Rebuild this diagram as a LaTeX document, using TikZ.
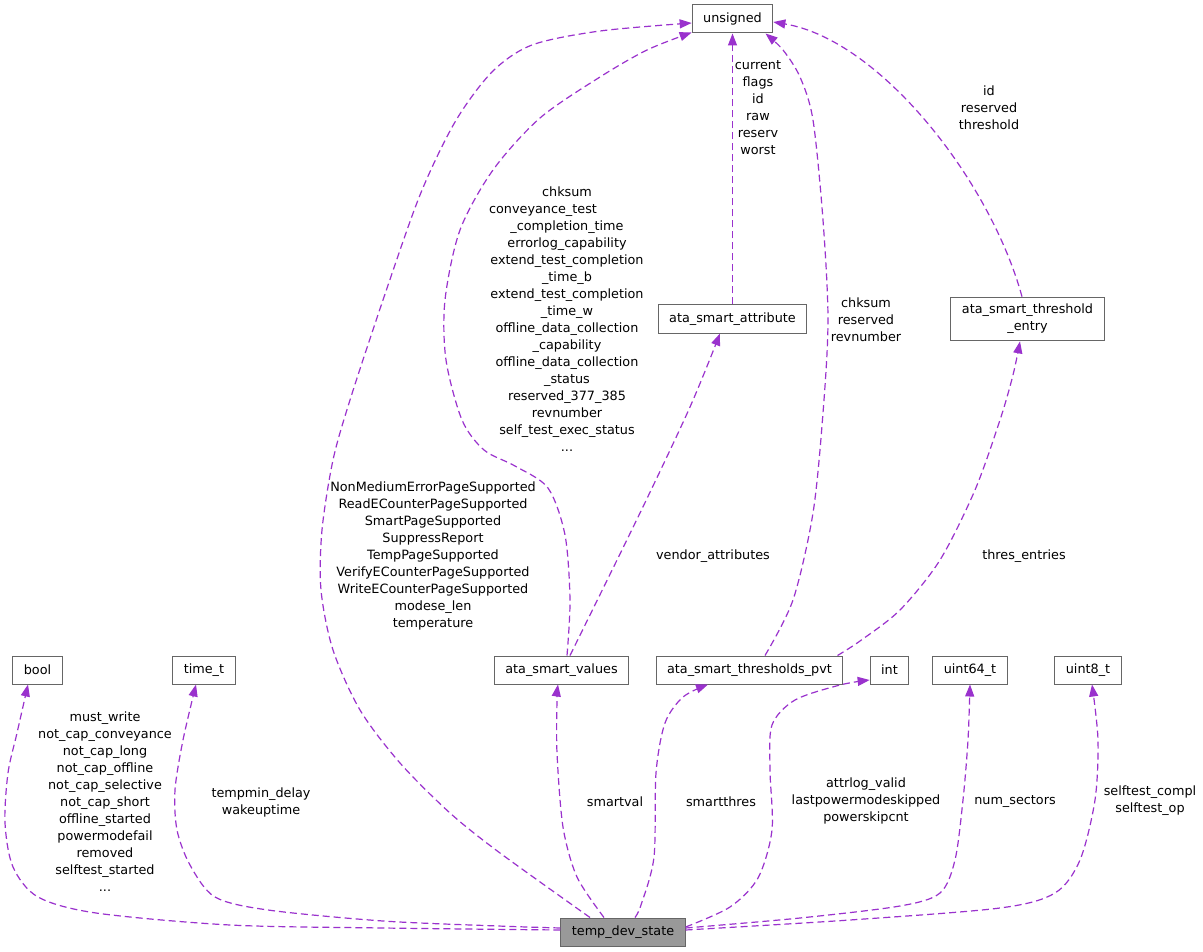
\documentclass[tikz,border=0pt]{standalone}
\usepackage{fontspec}
\setmainfont{DejaVu Sans}
\usetikzlibrary{arrows.meta}
\definecolor{edgecol}{HTML}{9A32CD}
\definecolor{boxline}{HTML}{666666}
\definecolor{tdsfill}{HTML}{999999}
\begin{document}
\begin{tikzpicture}[x=1pt,y=-1pt,
  cls/.style={draw=boxline, line width=1pt, fill=white, inner xsep=11pt, inner ysep=0pt,
    minimum height=28pt, font=\fontsize{12.8pt}{17pt}\selectfont, text=black},
  lbl/.style={inner sep=0pt, align=center, font=\fontsize{12.8pt}{17pt}\selectfont, text=black},
  edge/.style={draw=edgecol, line width=1.2pt, dash pattern=on 7pt off 4pt,
    -{Triangle[length=12pt,width=9pt]}}]
\useasboundingbox (0,0) rectangle (1203,952);
\fill[white] (0,0) rectangle (1203,952);

% nodes
\node[cls] (uns) at (732.5,19) {unsigned};
\node[cls] (attr) at (732.5,319) {ata\_smart\_attribute};
\node[cls, align=center, inner ysep=7pt] (thent) at (1027.5,319) {ata\_smart\_threshold\\\_entry};
\node[cls] (bool) at (37.5,670) {bool};
\node[cls] (timet) at (204,670) {time\_t};
\node[cls] (vals) at (561.5,670) {ata\_smart\_values};
\node[cls] (pvt) at (749.5,670) {ata\_smart\_thresholds\_pvt};
\node[cls] (int) at (889.5,670) {int};
\node[cls] (u64) at (970,670) {uint64\_t};
\node[cls] (u8) at (1088,670) {uint8\_t};
\node[cls, fill=tdsfill] (tds) at (623,932) {temp\_dev\_state};

% attachment points
\coordinate (s1) at ([yshift=2pt]tds.west);
\coordinate (t1) at ([xshift=-9.5pt]bool.south);
\coordinate (s2) at ([yshift=4pt]tds.west);
\coordinate (t2) at ([xshift=-8pt]timet.south);
\coordinate (s3) at ([xshift=-33pt]tds.north);
\coordinate (t3) at ([yshift=-4pt]uns.west);
\coordinate (s4) at ([xshift=5.5pt]vals.north);
\coordinate (t4) at ([yshift=1pt]uns.south west);
\coordinate (s5) at ([xshift=8.5pt]vals.north);
\coordinate (t5) at ([xshift=-12.5pt]attr.south);
\coordinate (s6) at ([xshift=15.5pt]pvt.north);
\coordinate (t6) at ([xshift=33pt]uns.south);
\coordinate (s7) at ([xshift=88pt]pvt.north);
\coordinate (t7) at ([xshift=-7.5pt]thent.south);
\coordinate (s9) at ([xshift=-5.5pt]thent.north);
\coordinate (t9) at ([yshift=-3pt]uns.east);
\coordinate (s10) at ([xshift=-19pt]tds.north);
\coordinate (t10) at ([xshift=-3.5pt]vals.south);
\coordinate (s11) at ([xshift=12pt]tds.north);
\coordinate (t11) at ([xshift=-41.5pt]pvt.south);
\coordinate (s12) at ([yshift=5pt]tds.east);
\coordinate (t12) at ([yshift=-10pt]int.west);
\coordinate (s13) at ([yshift=4pt]tds.east);
\coordinate (s14) at ([yshift=2pt]tds.east);
\coordinate (t14) at ([xshift=4pt]u8.south);

% edges
\draw[edge] plot[smooth] coordinates {(s1) (383,928) (230,925) (96,913) (38,897) (13,867) (5,823) (8,773) (17,733) (t1)};
\draw[edge] plot[smooth] coordinates {(s2) (498,926) (383,921) (268,910) (215,897) (190,865) (177,830) (175,790) (183,740) (t2)};
\draw[edge] plot[smooth] coordinates {(s3) (500,853) (450,813) (400,763) (360,710) (333,650) (321,590) (322,530) (333,460) (350,400) (383,300) (420,195) (455,122) (492,72) (532,45) (600,31) (t3)};
\draw[edge] plot[smooth] coordinates {(s4) (570,600) (565,535) (548,488) (515,466) (484,450) (462,420) (446,360) (445,300) (460,230) (493,170) (540,118) (600,77) (647,50) (t4)};
\draw[edge] plot[smooth] coordinates {(s5) (640,513) (690,407) (t5)};
\draw[edge] plot[smooth] coordinates {(s6) (793,600) (813,513) (823,413) (828,320) (823,220) (813,120) (800,77) (783,50) (t6)};
\draw[edge] plot[smooth] coordinates {(s7) (860,641) (900,610) (940,560) (975,490) (1000,420) (1013,375) (t7)};
\draw[edge] (attr.north) -- (uns.south);
\draw[edge] (s9) .. controls (990,180) and (880,40) .. (t9);
\draw[edge] plot[smooth] coordinates {(s10) (577,877) (563,827) (557,753) (557,700) (t10)};
\draw[edge] plot[smooth] coordinates {(s11) (641,905) (654,857) (656,773) (665,723) (683,697) (t11)};
\draw[edge] plot[smooth] coordinates {(s12) (730,907) (758,878) (772,830) (770,770) (772,725) (795,700) (840,685) (t12)};
\draw[edge] plot[smooth] coordinates {(s13) (800,918) (900,906) (940,893) (955,860) (963,800) (968,740) (u64.south)};
\draw[edge] plot[smooth] coordinates {(s14) (850,920) (1000,908) (1055,893) (1080,860) (1095,800) (1098,740) (t14)};

% labels
\node[lbl] (l1) at (105,802) {must\_write\\not\_cap\_conveyance\\not\_cap\_long\\not\_cap\_offline\\not\_cap\_selective\\not\_cap\_short\\offline\_started\\powermodefail\\removed\\selftest\_started\\...};
\node[lbl] (l2) at (261,802) {tempmin\_delay\\wakeuptime};
\node[lbl] (l3) at (433,556) {NonMediumErrorPageSupported\\ReadECounterPageSupported\\SmartPageSupported\\SuppressReport\\TempPageSupported\\VerifyECounterPageSupported\\WriteECounterPageSupported\\modese\_len\\temperature};
\node[lbl] (l4) at (567,319) {chksum\\conveyance\_test\rule{48pt}{0pt}\\\_completion\_time\\errorlog\_capability\\extend\_test\_completion\\\_time\_b\\extend\_test\_completion\\\_time\_w\\offline\_data\_collection\\\_capability\\offline\_data\_collection\\\_status\\reserved\_377\_385\\revnumber\\self\_test\_exec\_status\\...};
\node[lbl] (l5) at (713,556) {vendor\_attributes};
\node[lbl] (l6) at (866,320) {chksum\\reserved\\revnumber};
\node[lbl] (l7) at (1024,556) {thres\_entries};
\node[lbl] (l8) at (758,108) {current\\flags\\id\\raw\\reserv\\worst};
\node[lbl] (l9) at (989,108) {id\\reserved\\threshold};
\node[lbl] (l10) at (615,802) {smartval};
\node[lbl] (l11) at (721,802) {smartthres};
\node[lbl] (l12) at (866,801) {attrlog\_valid\\lastpowermodeskipped\\powerskipcnt};
\node[lbl] (l13) at (1015,802) {num\_sectors};
\node[lbl] (l14) at (1150,801) {selftest\_compl\\selftest\_op};
\end{tikzpicture}
\end{document}
